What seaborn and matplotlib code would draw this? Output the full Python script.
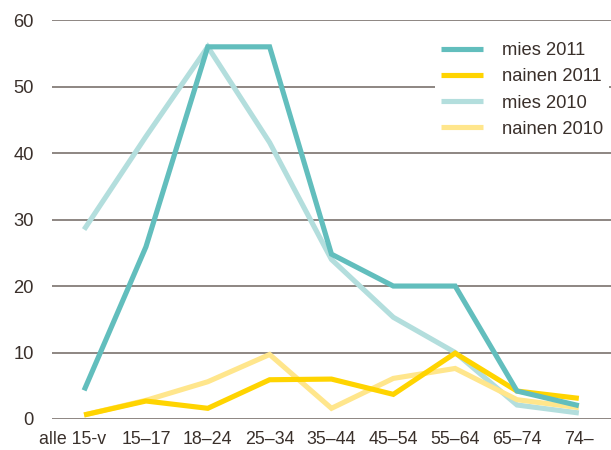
import matplotlib
matplotlib.use("Agg")
import matplotlib.pyplot as plt
import matplotlib.transforms as mtransforms
import seaborn as sns
import pandas as pd

# Age groups and series values (%)
age_groups = ["alle 15-v", "15\u201317", "18\u201324", "25\u201334", "35\u201344",
              "45\u201354", "55\u201364", "65\u201374", "74\u2013"]
mies_2011 = [4.3, 25.9, 56.0, 56.0, 24.8, 20.0, 20.0, 4.2, 2.0]
nainen_2011 = [0.6, 2.7, 1.6, 5.9, 6.0, 3.7, 9.9, 4.2, 3.1]
mies_2010 = [28.5, 42.5, 56.0, 41.6, 24.0, 15.3, 10.0, 2.1, 0.9]
nainen_2010 = [0.6, 2.8, 5.6, 9.7, 1.6, 6.1, 7.6, 2.9, 1.7]
y_ticks = [0, 10, 20, 30, 40, 50, 60]

series = {
    "mies 2011": mies_2011,
    "nainen 2011": nainen_2011,
    "mies 2010": mies_2010,
    "nainen 2010": nainen_2010,
}
colors = {
    "mies 2011": "#62bebd",
    "nainen 2011": "#ffd400",
    "mies 2010": "#b3dedd",
    "nainen 2010": "#ffe68c",
}
draw_order = ["mies 2010", "nainen 2010", "nainen 2011", "mies 2011"]
legend_order = ["mies 2011", "nainen 2011", "mies 2010", "nainen 2010"]

df = pd.DataFrame([
    {"pos": i, "ika": g, "sarja": name, "arvo": v}
    for name, vals in series.items()
    for i, (g, v) in enumerate(zip(age_groups, vals))
])

sns.set_style("white")
plt.rcParams["font.family"] = ["Liberation Sans", "DejaVu Sans"]
text_color = "#3a302b"
grid_color = "#6f6660"
fs = 13.2

fig = plt.figure(figsize=(6.11, 4.5), dpi=100)
ax = fig.add_axes([0.085, 0.069, 0.915, 0.886])

handles = {}
for z, name in enumerate(draw_order):
    sub = df[df["sarja"] == name]
    sns.lineplot(data=sub, x="pos", y="arvo", ax=ax, color=colors[name],
                 linewidth=3.7, zorder=3 + z, legend=False)
    line = ax.lines[-1]
    line.set_clip_on(False)
    line.set_solid_joinstyle("miter")
    line.set_solid_capstyle("butt")
    handles[name] = line

for t in y_ticks:
    ax.axhline(t, color=grid_color, linewidth=1.1, zorder=1)

ax.set_xlim(-0.52, len(age_groups) - 1 + 0.52)
ax.set_ylim(0, 60)
ax.set_xticks(range(len(age_groups)))
ax.set_xticklabels(age_groups)
ax.set_yticks(y_ticks)
ax.tick_params(axis="both", length=0, labelsize=fs, colors=text_color)
ax.tick_params(axis="x", labelsize=12.8)
ax.tick_params(axis="y", pad=13)
ax.tick_params(axis="x", pad=9)
ax.set_xlabel("")
ax.set_ylabel("")
for s in ax.spines.values():
    s.set_visible(False)

# nudge the long first category label to the left
first = ax.get_xticklabels()[0]
first.set_transform(first.get_transform() +
                    mtransforms.ScaledTranslation(-12 / 100, 0, fig.dpi_scale_trans))

leg = ax.legend([handles[n] for n in legend_order], legend_order,
                loc="upper left", bbox_to_anchor=(0.685, 0.961),
                borderaxespad=0, frameon=True, fontsize=fs, handlelength=2.3,
                handletextpad=1.0, labelspacing=0.5, borderpad=0.35)
leg.get_frame().set_facecolor("white")
leg.get_frame().set_edgecolor("none")
leg.get_frame().set_alpha(1)
leg.set_zorder(10)
for t in leg.get_texts():
    t.set_color(text_color)

fig.savefig("out.png", dpi=100)
